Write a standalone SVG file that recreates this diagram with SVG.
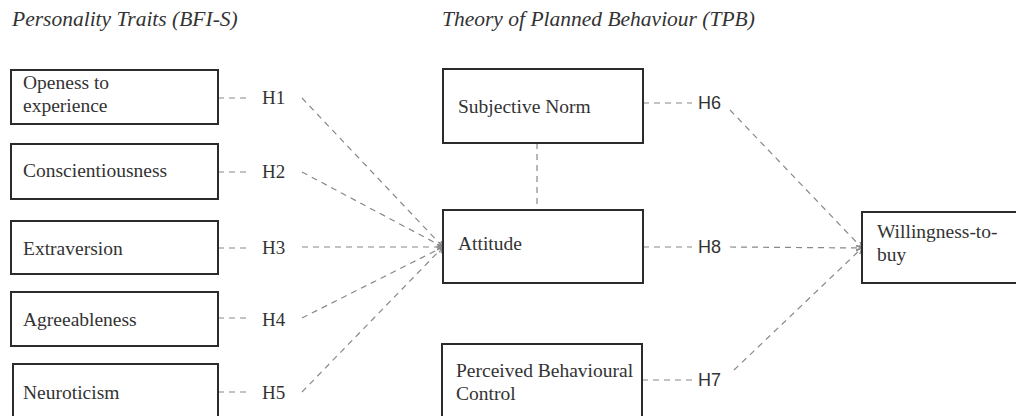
<svg xmlns="http://www.w3.org/2000/svg" width="1016" height="416" viewBox="0 0 1016 416">
<style>
.box{fill:#fff;stroke:#2b2b2b;stroke-width:2}
.t{font-family:"Liberation Serif","Times New Roman",serif;font-size:19.5px;fill:#333}
.title{font-family:"Liberation Serif","Times New Roman",serif;font-size:21.5px;font-style:italic;fill:#333}
.hs{font-family:"Liberation Serif","Times New Roman",serif;font-size:19px;fill:#333}
.hn{font-family:"Liberation Sans",Arial,sans-serif;font-size:18px;fill:#333}
.d{fill:none;stroke:#888;stroke-width:1.2;stroke-dasharray:6 5}
.a{marker-end:url(#arr)}
</style>
<defs>
<marker id="arr" markerUnits="userSpaceOnUse" markerWidth="8" markerHeight="8" refX="6" refY="3" orient="auto">
<path d="M0,0 L6,3 L0,6" fill="none" stroke="#888" stroke-width="1.2"/>
</marker>
</defs>
<rect width="1016" height="416" fill="#fff"/>
<text class="title" x="12" y="26">Personality Traits (BFI-S)</text>
<text class="title" x="442" y="26">Theory of Planned Behaviour (TPB)</text>

<g id="connectors">
<line class="d" x1="218" y1="98" x2="250" y2="98"/>
<line class="d" x1="218" y1="172" x2="250" y2="172"/>
<line class="d" x1="218" y1="248" x2="250" y2="248"/>
<line class="d" x1="218" y1="318" x2="250" y2="318"/>
<line class="d" x1="218" y1="392" x2="250" y2="392"/>
<line class="d a" x1="302" y1="98" x2="443" y2="247"/>
<line class="d a" x1="302" y1="172" x2="443" y2="247"/>
<line class="d a" x1="302" y1="247" x2="443" y2="247"/>
<line class="d a" x1="302" y1="318" x2="443" y2="247"/>
<line class="d a" x1="302" y1="392" x2="443" y2="247"/>
<line class="d" x1="537" y1="143" x2="537" y2="210"/>
<line class="d" x1="643" y1="103" x2="692" y2="103"/>
<line class="d" x1="643" y1="247" x2="692" y2="247"/>
<line class="d" x1="642" y1="380" x2="692" y2="380"/>
<line class="d a" x1="730" y1="110" x2="862" y2="248"/>
<line class="d a" x1="730" y1="247" x2="862" y2="248"/>
<line class="d a" x1="734" y1="370" x2="862" y2="248"/>
</g>

<g id="labels">
<text class="hs" x="262" y="104">H1</text>
<text class="hs" x="262" y="178">H2</text>
<text class="hs" x="262" y="254">H3</text>
<text class="hs" x="262" y="326">H4</text>
<text class="hs" x="262" y="399">H5</text>
<text class="hn" x="698" y="109">H6</text>
<text class="hn" x="698" y="253">H8</text>
<text class="hn" x="698" y="386">H7</text>
</g>

<g id="openness">
<rect class="box" x="11" y="70" width="207" height="54"/>
<text class="t" x="23" y="89">Openess to</text>
<text class="t" x="23" y="112">experience</text>
</g>
<g id="conscientiousness">
<rect class="box" x="11" y="144" width="207" height="55"/>
<text class="t" x="23" y="177">Conscientiousness</text>
</g>
<g id="extraversion">
<rect class="box" x="11" y="221" width="207" height="53"/>
<text class="t" x="23" y="255">Extraversion</text>
</g>
<g id="agreeableness">
<rect class="box" x="11" y="292" width="207" height="54"/>
<text class="t" x="23" y="326">Agreeableness</text>
</g>
<g id="neuroticism">
<rect class="box" x="13" y="364" width="205" height="70"/>
<text class="t" x="23" y="399">Neuroticism</text>
</g>
<g id="subjective-norm">
<rect class="box" x="443" y="69" width="200" height="74"/>
<text class="t" x="458" y="113">Subjective Norm</text>
</g>
<g id="attitude">
<rect class="box" x="443" y="210" width="200" height="73"/>
<text class="t" x="458" y="250">Attitude</text>
</g>
<g id="pbc">
<rect class="box" x="442" y="344" width="200" height="90"/>
<text class="t" x="456" y="377">Perceived Behavioural</text>
<text class="t" x="456" y="400">Control</text>
</g>
<g id="willingness">
<rect class="box" x="862" y="212" width="170" height="71"/>
<text class="t" x="877" y="238">Willingness-to-</text>
<text class="t" x="877" y="261">buy</text>
</g>
</svg>
